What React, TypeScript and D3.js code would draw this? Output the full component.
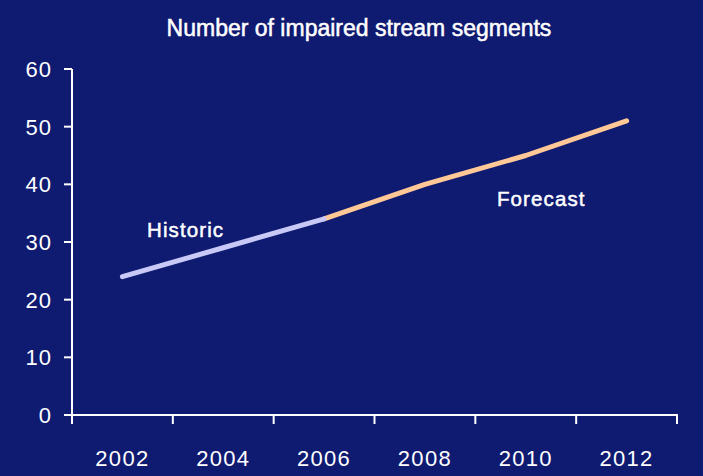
import React from 'react'
import * as d3 from 'd3'

const years = ['2002', '2004', '2006', '2008', '2010', '2012']
const historic = [24, 29, 34]
const forecast = [34, 40, 45, 51]
const forecastYears = ['2006', '2008', '2010', '2012']
const yTicks = [0, 10, 20, 30, 40, 50, 60]

const W = 703
const H = 476
const BG = '#0f1a71'
const FONT = '"Liberation Sans", Arial, sans-serif'

export default function App() {
  const x = d3.scaleBand<string>().domain(years).range([72, 677]).padding(0)
  const y = d3.scaleLinear().domain([0, 60]).range([415, 69])

  const line = d3
    .line<[string, number]>()
    .x(d => (x(d[0]) as number) + x.bandwidth() / 2)
    .y(d => y(d[1]))

  const histPts = historic.map((v, i) => [years[i], v] as [string, number])
  const forePts = forecast.map((v, i) => [forecastYears[i], v] as [string, number])

  // tick marks at band edges
  const edges = years.map(d => x(d) as number).concat([x.range()[1]])

  return (
    <div style={{ position: 'fixed', left: 0, top: 0, width: W, height: H, background: BG }}>
      <svg width={W} height={H} style={{ display: 'block' }}>
        <rect width={W} height={H} fill={BG} />
        <text x={359} y={36} fill="#fff" stroke="#fff" strokeWidth={0.5} fontFamily={FONT} fontSize={23} textAnchor="middle">
          Number of impaired stream segments
        </text>

        {/* y axis */}
        <line x1={72} x2={72} y1={y(60)} y2={424} stroke="#fff" strokeWidth={2} />
        {yTicks.map(t => (
          <g key={t}>
            <line x1={64} x2={72} y1={y(t)} y2={y(t)} stroke="#fff" strokeWidth={2} />
            <text x={52} y={y(t) + 8} fill="#fff" fontFamily={FONT} fontSize={22} textAnchor="end" letterSpacing={1}>
              {t}
            </text>
          </g>
        ))}

        {/* x axis */}
        <line x1={64} x2={678} y1={y(0)} y2={y(0)} stroke="#fff" strokeWidth={2} />
        {edges.map((e, i) => (
          <line key={i} x1={e} x2={e} y1={y(0)} y2={424} stroke="#fff" strokeWidth={2} />
        ))}
        {years.map(d => (
          <text
            key={d}
            x={(x(d) as number) + x.bandwidth() / 2}
            y={466}
            fill="#fff"
            fontFamily={FONT}
            fontSize={22}
            textAnchor="middle"
            letterSpacing={1.3}
          >
            {d}
          </text>
        ))}

        <path d={line(forePts) || ''} fill="none" stroke="#ffc896" strokeWidth={5} strokeLinecap="round" strokeLinejoin="round" />
        <path d={line(histPts) || ''} fill="none" stroke="#c9c9f7" strokeWidth={5} strokeLinecap="round" strokeLinejoin="round" />

        <text x={147} y={237} fill="#fff" stroke="#fff" strokeWidth={0.5} fontFamily={FONT} fontSize={20.5} letterSpacing={1.1}>
          Historic
        </text>
        <text x={497} y={206} fill="#fff" stroke="#fff" strokeWidth={0.5} fontFamily={FONT} fontSize={20.5} letterSpacing={1.1}>
          Forecast
        </text>
      </svg>
    </div>
  )
}
